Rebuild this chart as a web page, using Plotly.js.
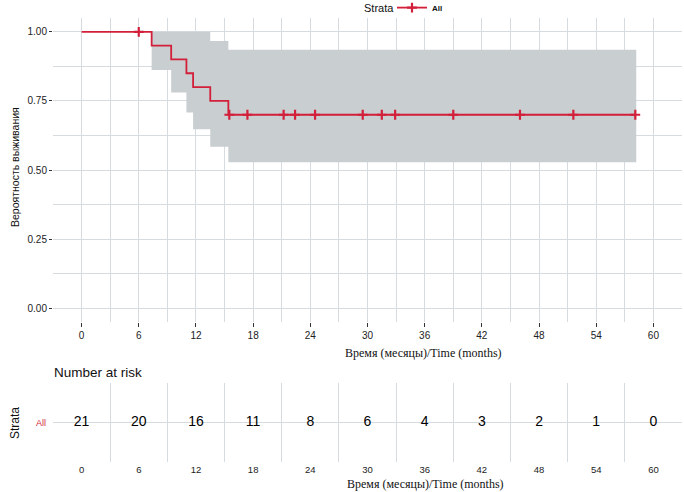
<!DOCTYPE html>
<html>
<head>
<meta charset="utf-8">
<script src="https://cdn.plot.ly/plotly-3.0.1.min.js"></script>
<style>html,body{margin:0;padding:0;background:#fff;}#chart{width:684px;height:492px;}</style>
</head>
<body>
<div id="chart"></div>
<script>
// Kaplan-Meier step curve
const stepTimes = [0, 7.35, 9.4, 11.0, 11.7, 13.5, 15.4, 58.1];
const stepSurv  = [1.0, 0.95, 0.90, 0.85, 0.80, 0.75, 0.70, 0.70];
// Confidence band
const bandTimes = [7.35, 9.4, 11.0, 11.7, 13.5, 15.4, 58.2];
const bandUpper = [1.0, 1.0, 1.0, 1.0, 0.967, 0.935, 0.935];
const bandLower = [0.862, 0.78, 0.708, 0.647, 0.584, 0.528, 0.528];
// Censored observations
const censorTimes = [6.0, 15.5, 17.4, 21.2, 22.4, 24.5, 29.5, 31.5, 32.9, 39.0, 46.0, 51.6, 58.1];
const censorSurv  = [1.0, 0.70, 0.70, 0.70, 0.70, 0.70, 0.70, 0.70, 0.70, 0.70, 0.70, 0.70, 0.70];
// Risk table
const riskTimes  = [0, 6, 12, 18, 24, 30, 36, 42, 48, 54, 60];
const riskCounts = [21, 20, 16, 11, 8, 6, 4, 3, 2, 1, 0];
const stratum = 'All';
const legendTitle = 'Strata';
const xTicks = [0, 6, 12, 18, 24, 30, 36, 42, 48, 54, 60];
const yTicks = [0, 0.25, 0.5, 0.75, 1.0];
const yTickText = ['0.00', '0.25', '0.50', '0.75', '1.00'];

const RED = '#d21f3a';
const GRID = '#d6dbdf';
const FONT = 'Liberation Sans, Arial, sans-serif';

const traces = [
  {x: bandTimes, y: bandLower, type: 'scatter', mode: 'lines', line: {shape: 'hv', width: 0, color: 'rgba(0,0,0,0)'},
   showlegend: false, hoverinfo: 'skip', xaxis: 'x', yaxis: 'y'},
  {x: bandTimes, y: bandUpper, type: 'scatter', mode: 'lines', line: {shape: 'hv', width: 0, color: 'rgba(0,0,0,0)'},
   fill: 'tonexty', fillcolor: 'rgb(201,206,209)', showlegend: false, hoverinfo: 'skip', xaxis: 'x', yaxis: 'y'},
  {x: stepTimes, y: stepSurv, type: 'scatter', mode: 'lines', line: {shape: 'hv', width: 1.8, color: RED},
   showlegend: false, xaxis: 'x', yaxis: 'y'},
  {x: censorTimes, y: censorSurv, type: 'scatter', mode: 'markers',
   marker: {symbol: 'cross-thin-open', size: 7, line: {width: 2.2, color: RED}, color: RED},
   showlegend: false, xaxis: 'x', yaxis: 'y'},
  {x: [null], y: [null], type: 'scatter', mode: 'lines+markers', name: stratum,
   line: {width: 1.8, color: RED}, marker: {symbol: 'cross-thin-open', size: 7, line: {width: 2.2, color: RED}},
   showlegend: true, xaxis: 'x', yaxis: 'y'},
  {x: riskTimes, y: riskTimes.map(() => stratum), text: riskCounts.map(String), type: 'scatter', mode: 'text',
   textfont: {family: FONT, size: 14, color: '#000'}, textposition: 'middle center', showlegend: false,
   cliponaxis: false, xaxis: 'x2', yaxis: 'y2'}
];

const layout = {
  width: 684, height: 492,
  margin: {l: 0, r: 0, t: 0, b: 0, autoexpand: false},
  paper_bgcolor: '#fff', plot_bgcolor: '#fff',
  font: {family: FONT, color: '#2b2b2b'},
  showlegend: true,
  legend: {orientation: 'h', x: 392/684, xanchor: 'left', y: 1.014, yanchor: 'top',
           font: {size: 8, color: '#111', weight: 'bold'}, itemwidth: 30, bgcolor: 'rgba(0,0,0,0)', valign: 'middle'},
  xaxis: {domain: [53/684, 682/684], range: [-3, 63], anchor: 'y',
          tickmode: 'array', tickvals: xTicks, ticks: 'outside', ticklen: 4, tickcolor: '#333', tickwidth: 1,
          tickfont: {size: 10, color: '#222'}, showgrid: true, gridcolor: GRID, gridwidth: 1,
          minor: {dtick: 3, tick0: 0, showgrid: true, gridcolor: GRID, gridwidth: 1},
          zeroline: false, showline: false, automargin: false},
  yaxis: {domain: [(492-322)/492, (492-18)/492], range: [-0.05, 1.05], anchor: 'x',
          tickmode: 'array', tickvals: yTicks, ticktext: yTickText, ticks: 'outside', ticklen: 3, tickcolor: '#333',
          tickfont: {size: 10, color: '#222'}, showgrid: true, gridcolor: GRID, gridwidth: 1,
          minor: {dtick: 0.125, tick0: 0, showgrid: true, gridcolor: GRID, gridwidth: 1},
          zeroline: false, showline: false, automargin: false},
  xaxis2: {domain: [53/684, 682/684], range: [-3, 63], anchor: 'y2',
           tickmode: 'array', tickvals: xTicks, ticks: '', tickfont: {size: 9.5, color: '#222'},
           showgrid: false,
           minor: {tickmode: 'array', tickvals: [-3, 3, 9, 15, 21, 27, 33, 39, 45, 51, 57, 63], showgrid: true, gridcolor: GRID, gridwidth: 1},
           zeroline: false, showline: false, automargin: false},
  yaxis2: {domain: [(492-462)/492, (492-383)/492], type: 'category', range: [-0.5, 0.5], anchor: 'x2',
           ticks: '', tickfont: {size: 9, color: RED}, ticklabelstandoff: 6, showgrid: true, gridcolor: GRID, gridwidth: 1,
           zeroline: false, showline: false, automargin: false},
  annotations: [
    {text: legendTitle, xref: 'paper', yref: 'paper', x: 362/684, y: (492-8)/492,
     showarrow: false, xanchor: 'left', yanchor: 'middle', font: {size: 11, color: '#111'}},
    {text: 'Вероятность выживания', xref: 'paper', yref: 'paper', x: 15/684, y: (492-167)/492,
     textangle: -90, showarrow: false, xanchor: 'center', yanchor: 'middle', font: {size: 10.5, color: '#111'}},
    {text: 'Время (месяцы)/Time (months)', xref: 'paper', yref: 'paper', x: 423/684, y: (492-353)/492,
     showarrow: false, xanchor: 'center', yanchor: 'middle', font: {family: 'Liberation Serif, Times New Roman, serif', size: 12, color: '#111'}},
    {text: 'Number at risk', xref: 'paper', yref: 'paper', x: 52/684, y: (492-372)/492,
     showarrow: false, xanchor: 'left', yanchor: 'middle', font: {size: 13.5, color: '#111'}},
    {text: 'Strata', xref: 'paper', yref: 'paper', x: 15/684, y: (492-423)/492,
     textangle: -90, showarrow: false, xanchor: 'center', yanchor: 'middle', font: {size: 12, color: '#111'}},
    {text: 'Время (месяцы)/Time (months)', xref: 'paper', yref: 'paper', x: 425/684, y: (492-484)/492,
     showarrow: false, xanchor: 'center', yanchor: 'middle', font: {family: 'Liberation Serif, Times New Roman, serif', size: 12, color: '#111'}}
  ]
};

Plotly.newPlot('chart', traces, layout, {displayModeBar: false, staticPlot: true});
</script>
</body>
</html>
